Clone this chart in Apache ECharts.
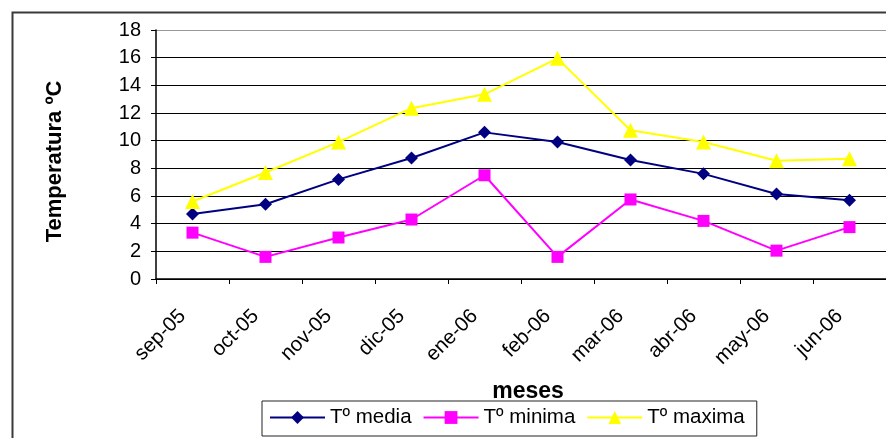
<!DOCTYPE html>
<html>
<head>
<meta charset="utf-8">
<script src="https://cdn.jsdelivr.net/npm/echarts@6/dist/echarts.min.js"></script>
<style>
  html, body { margin: 0; padding: 0; background: #fff; }
  #chart { width: 886px; height: 438px; }
</style>
</head>
<body>
<div id="chart"></div>
<script>
// Monthly temperatures, Sept 2005 – June 2006
const meses = ['sep-05', 'oct-05', 'nov-05', 'dic-05', 'ene-06', 'feb-06', 'mar-06', 'abr-06', 'may-06', 'jun-06'];
const tMedia = [4.7, 5.4, 7.2, 8.75, 10.6, 9.9, 8.6, 7.6, 6.15, 5.7];
const tMinima = [3.35, 1.6, 3.0, 4.3, 7.5, 1.6, 5.75, 4.2, 2.05, 3.75];
const tMaxima = [5.6, 7.7, 9.9, 12.35, 13.35, 15.95, 10.75, 9.9, 8.55, 8.7];
const yTicks = [0, 2, 4, 6, 8, 10, 12, 14, 16, 18];

const font = 'Liberation Sans, Arial, sans-serif';
const chart = echarts.init(document.getElementById('chart'));

chart.setOption({
  animation: false,
  backgroundColor: '#fff',
  graphic: [{
    type: 'rect',
    left: 10, top: 10,
    shape: { width: 900, height: 460 },
    style: { fill: 'none', stroke: '#3a3a3a', lineWidth: 2 },
    silent: true
  }],
  grid: { left: 156, top: 30, right: -12, bottom: 159 },
  legend: {
    top: 401,
    left: 262,
    padding: [6, 12, 8, 7],
    borderColor: '#222',
    borderWidth: 1,
    itemGap: 11,
    itemWidth: 55,
    itemHeight: 16,
    textStyle: { fontFamily: font, fontSize: 20.5, color: '#000' },
    data: ['Tº media', 'Tº minima', 'Tº maxima']
  },
  xAxis: {
    type: 'category',
    data: meses,
    boundaryGap: true,
    name: 'meses',
    nameLocation: 'middle',
    nameGap: 101,
    nameTextStyle: {
      fontFamily: font, fontSize: 23, fontWeight: 'bold', color: '#000',
      padding: [0, 0, 0, 14]
    },
    axisLine: { lineStyle: { color: '#000', width: 1.5 } },
    axisTick: { show: true, length: 5, lineStyle: { color: '#000' } },
    axisLabel: {
      rotate: 45, margin: 24, padding: [0, 14, 0, 0],
      fontFamily: font, fontSize: 20.5, color: '#000'
    },
    splitLine: { show: false }
  },
  yAxis: {
    type: 'value',
    min: yTicks[0],
    max: yTicks[yTicks.length - 1],
    interval: 2,
    name: 'Temperatura ºC',
    nameLocation: 'middle',
    nameGap: 90,
    nameRotate: 90,
    nameTextStyle: {
      fontFamily: font, fontSize: 22, fontWeight: 'bold', color: '#000',
      padding: [0, 14, 0, 0]
    },
    axisLine: { show: true, lineStyle: { color: '#000', width: 1.5 } },
    axisTick: { show: true, length: 5, lineStyle: { color: '#000' } },
    axisLabel: { margin: 15, fontFamily: font, fontSize: 20, color: '#000' },
    splitLine: {
      show: true,
      lineStyle: {
        color: ['#000', '#000', '#000', '#000', '#000', '#000', '#000', '#000', '#000', '#999'],
        width: 1
      }
    }
  },
  series: [
    {
      name: 'Tº media', type: 'line', data: tMedia,
      symbol: 'diamond', symbolSize: 13,
      lineStyle: { color: '#000080', width: 2 },
      itemStyle: { color: '#000080' }
    },
    {
      name: 'Tº minima', type: 'line', data: tMinima,
      symbol: 'rect', symbolSize: 12,
      lineStyle: { color: '#ff00ff', width: 2 },
      itemStyle: { color: '#ff00ff' }
    },
    {
      name: 'Tº maxima', type: 'line', data: tMaxima,
      symbol: 'triangle', symbolSize: 15,
      lineStyle: { color: '#ffff00', width: 2 },
      itemStyle: { color: '#ffff00' }
    }
  ]
});
</script>
</body>
</html>
